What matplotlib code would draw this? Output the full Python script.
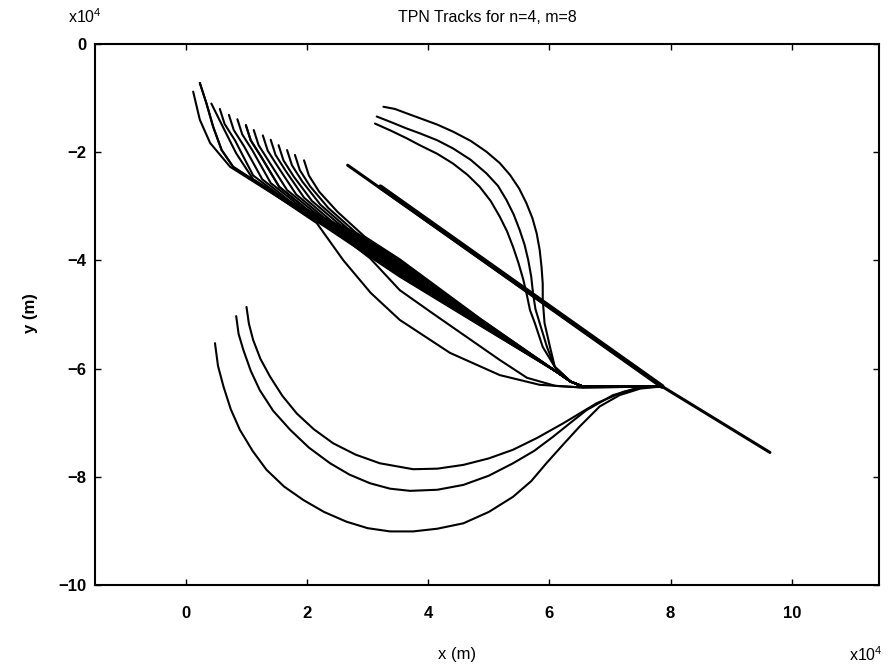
import numpy as np
import matplotlib
matplotlib.use("Agg")
import matplotlib.pyplot as plt

plt.rcParams['font.family'] = ['Liberation Sans', 'DejaVu Sans']

# all coordinates in units of 1e4 m

# target track
target_x = [2.67, 7.86, 9.64]
target_y = [-2.24, -6.33, -7.55]
target2_x = [3.21, 7.86]
target2_y = [-2.64, -6.33]

# common end of the missile tracks (run in to the intercept point)
tail_x = [6.12, 6.35, 6.55, 7.86]
tail_y = [-6.06, -6.24, -6.33, -6.33]

# fan of tracks from the upper left
fan_x = [
    [0.12, 0.23, 0.40, 0.73, 2.30, 3.53, 4.85],
    [0.23, 0.34, 0.45, 0.59, 0.78, 2.30, 3.53, 4.85],
    [0.42, 0.61, 0.83, 1.11, 2.30, 3.53, 4.85],
    [0.56, 0.64, 0.81, 1.11, 1.56, 3.53, 4.85],
    [0.71, 0.79, 0.96, 1.26, 1.71, 3.53, 4.85],
    [0.85, 0.93, 1.10, 1.40, 1.85, 3.53, 4.85],
    [0.99, 1.07, 1.24, 1.54, 1.99, 3.53, 4.85],
    [1.12, 1.20, 1.37, 1.67, 2.12, 3.53, 4.85],
    [1.27, 1.35, 1.52, 1.82, 2.27, 3.53, 4.85],
    [1.40, 1.48, 1.65, 1.95, 2.40, 3.53, 4.85],
    [1.53, 1.61, 1.78, 2.08, 2.53, 3.53, 4.85],
    [1.67, 1.75, 1.92, 2.22, 2.67, 3.53, 4.85],
    [1.80, 1.88, 2.05, 2.35, 2.80, 3.53, 4.85],
    [1.95, 2.03, 2.20, 2.50, 2.95, 3.53, 4.85],
]
fan_y = [
    [-0.88, -1.40, -1.83, -2.27, -3.38, -4.30, -5.20],
    [-0.72, -1.10, -1.53, -1.96, -2.27, -3.36, -4.28, -5.19],
    [-1.10, -1.53, -2.02, -2.50, -3.34, -4.26, -5.18],
    [-1.20, -1.48, -1.78, -2.43, -2.81, -4.24, -5.17],
    [-1.31, -1.59, -1.89, -2.50, -2.90, -4.21, -5.16],
    [-1.39, -1.67, -1.97, -2.57, -2.97, -4.19, -5.15],
    [-1.50, -1.78, -2.08, -2.64, -3.05, -4.16, -5.14],
    [-1.59, -1.87, -2.17, -2.70, -3.11, -4.14, -5.13],
    [-1.69, -1.97, -2.27, -2.78, -3.20, -4.11, -5.12],
    [-1.77, -2.05, -2.35, -2.84, -3.27, -4.08, -5.11],
    [-1.87, -2.15, -2.45, -2.90, -3.33, -4.06, -5.10],
    [-1.96, -2.24, -2.54, -2.97, -3.41, -4.03, -5.09],
    [-2.05, -2.33, -2.63, -3.03, -3.48, -4.01, -5.08],
    [-2.15, -2.43, -2.73, -3.10, -3.56, -3.98, -5.07],
]

# two tracks that leave the fan and drop lower
mid_x = [
    [0.23, 0.34, 0.45, 0.59, 0.78, 2.16, 2.60, 3.05, 3.53, 4.36, 5.18, 5.84, 6.55, 7.86],
    [0.99, 1.07, 1.24, 1.54, 1.99, 3.04, 3.53, 4.10, 4.64, 5.18, 5.63, 6.10, 6.55, 7.86],
]
mid_y = [
    [-0.72, -1.10, -1.53, -1.96, -2.27, -3.31, -4.00, -4.60, -5.10, -5.71, -6.12, -6.30, -6.35, -6.33],
    [-1.50, -1.78, -2.08, -2.64, -3.05, -3.96, -4.55, -5.00, -5.42, -5.84, -6.17, -6.32, -6.35, -6.33],
]

# three S-shaped tracks from the top
s_x = [
    [3.26, 3.45, 3.64, 3.86, 4.15, 4.41, 4.70, 4.96, 5.18, 5.35, 5.50, 5.62, 5.72, 5.79,
     5.84, 5.87, 5.89, 5.89, 5.92, 6.01, 6.09],
    [3.15, 3.40, 3.64, 3.86, 4.15, 4.41, 4.70, 4.96, 5.15, 5.29, 5.41, 5.51, 5.59, 5.65,
     5.70, 5.73, 5.77, 5.84, 5.96, 6.09],
    [3.12, 3.38, 3.64, 3.86, 4.15, 4.41, 4.65, 4.85, 5.03, 5.18, 5.30, 5.40, 5.49, 5.57,
     5.63, 5.68, 5.76, 5.89, 6.09],
]
s_y = [
    [-1.16, -1.20, -1.28, -1.37, -1.49, -1.62, -1.79, -1.99, -2.20, -2.42, -2.67, -2.94, -3.22, -3.50,
     -3.81, -4.12, -4.43, -4.73, -5.16, -5.60, -5.97],
    [-1.34, -1.45, -1.56, -1.65, -1.78, -1.93, -2.14, -2.39, -2.62, -2.88, -3.15, -3.44, -3.71, -3.99,
     -4.30, -4.61, -4.90, -5.16, -5.60, -5.97],
    [-1.47, -1.60, -1.74, -1.87, -2.03, -2.21, -2.42, -2.64, -2.90, -3.19, -3.46, -3.75, -4.05, -4.36,
     -4.65, -4.92, -5.16, -5.60, -5.97],
]

# three arcs from the lower left
arc_x = [
    [1.00, 1.04, 1.11, 1.23, 1.39, 1.59, 1.83, 2.11, 2.43, 2.80, 3.20, 3.75, 4.15, 4.58,
     5.00, 5.40, 5.80, 6.23, 6.78, 7.22, 7.49, 7.86],
    [0.83, 0.87, 0.95, 1.07, 1.22, 1.44, 1.72, 2.03, 2.38, 2.70, 3.04, 3.37, 3.70, 4.15,
     4.58, 5.00, 5.40, 5.75, 6.06, 6.35, 6.61, 7.05, 7.49, 7.86],
    [0.48, 0.53, 0.62, 0.74, 0.89, 1.10, 1.33, 1.62, 1.94, 2.28, 2.65, 3.00, 3.37, 3.75,
     4.15, 4.58, 5.00, 5.40, 5.70, 5.95, 6.23, 6.50, 6.83, 7.16, 7.50, 7.86],
]
arc_y = [
    [-4.86, -5.17, -5.47, -5.82, -6.15, -6.50, -6.83, -7.12, -7.38, -7.59, -7.75, -7.86, -7.85, -7.78,
     -7.66, -7.50, -7.28, -7.01, -6.64, -6.43, -6.35, -6.33],
    [-5.03, -5.36, -5.66, -6.04, -6.40, -6.78, -7.13, -7.46, -7.75, -7.96, -8.12, -8.22, -8.26, -8.24,
     -8.15, -7.98, -7.75, -7.52, -7.26, -7.00, -6.77, -6.49, -6.35, -6.33],
    [-5.53, -5.95, -6.33, -6.75, -7.13, -7.52, -7.87, -8.18, -8.43, -8.65, -8.83, -8.95, -9.01, -9.01,
     -8.96, -8.86, -8.65, -8.37, -8.08, -7.75, -7.40, -7.07, -6.70, -6.49, -6.37, -6.33],
]

xticks = [0, 2, 4, 6, 8, 10]
yticks = [0, -2, -4, -6, -8, -10]

fig = plt.figure(figsize=(8.93, 6.69), dpi=100)
ax = fig.add_axes([0.1064, 0.1256, 0.8779, 0.8086])

lw = 1.5
style = dict(color='k', solid_joinstyle='round', solid_capstyle='round')
ax.plot(target_x, target_y, lw=2.2, **style)
ax.plot(target2_x, target2_y, lw=3.5, **style)
for xs, ys in zip(fan_x, fan_y):
    ax.plot(xs + tail_x, ys + tail_y, lw=lw, **style)
for xs, ys in zip(mid_x, mid_y):
    ax.plot(xs, ys, lw=lw, **style)
for xs, ys in zip(s_x, s_y):
    ax.plot(xs + tail_x[1:], ys + tail_y[1:], lw=lw, **style)
for xs, ys in zip(arc_x, arc_y):
    ax.plot(xs, ys, lw=lw, **style)

ax.set_xlim(-1.5, 11.44)
ax.set_ylim(-10, 0)
ax.set_xticks(xticks)
ax.set_yticks(yticks)
ax.set_xticklabels([str(t) for t in xticks], fontsize=12, fontweight='bold')
ax.set_yticklabels([str(t).replace('-', '\u2212') for t in yticks], fontsize=12, fontweight='bold')
ax.tick_params(direction='in', length=4, width=1, top=True, right=True)
ax.tick_params(axis='x', pad=15)
ax.tick_params(axis='y', pad=6)
for s in ax.spines.values():
    s.set_linewidth(1.5)

fig.text(487 / 893, 1 - 17 / 669, 'TPN Tracks for n=4, m=8', ha='center', va='center', fontsize=11.5)
fig.text(85 / 893, 1 - 17 / 669, r'x10$^{\mathregular{4}}$', ha='center', va='center', fontsize=11.5)
fig.text(866 / 893, 1 - 655 / 669, r'x10$^{\mathregular{4}}$', ha='center', va='center', fontsize=11.5)
fig.text(457 / 893, 1 - 655 / 669, 'x (m)', ha='center', va='center', fontsize=12)
fig.text(30 / 893, 1 - 313 / 669, 'y (m)', ha='center', va='center', rotation=90,
         fontsize=12, fontweight='bold')

fig.savefig('out.png', dpi=100)
